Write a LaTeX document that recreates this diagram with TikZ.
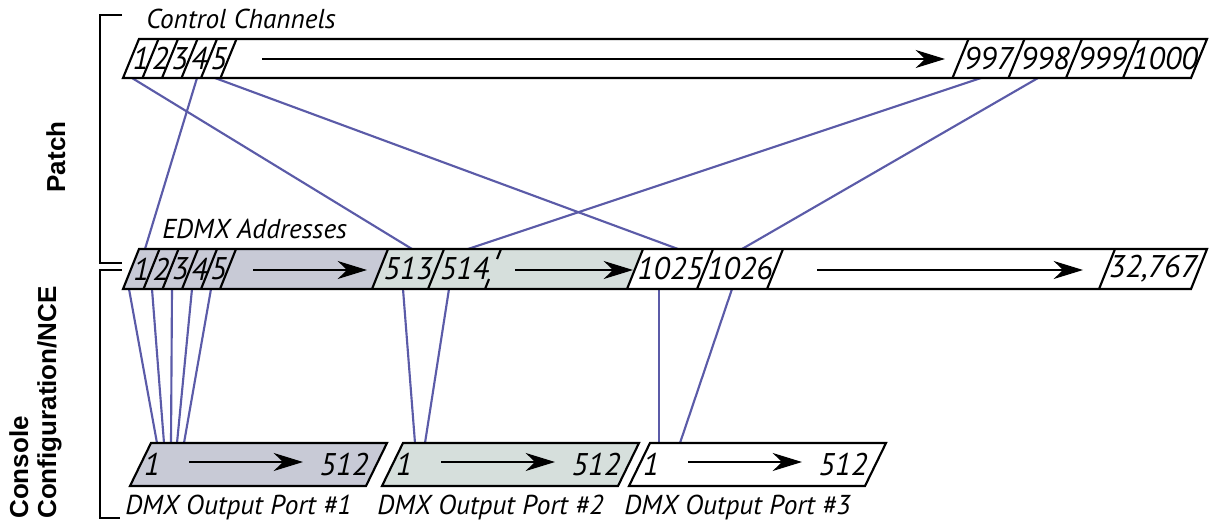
\documentclass[tikz,border=0pt]{standalone}
\usepackage{fontspec}
\usetikzlibrary{arrows.meta}
\newfontfamily\itfont{PT Sans}
\newfontfamily\sidefont{Liberation Sans}
\definecolor{linkblue}{RGB}{91,91,168}
\definecolor{edmxgray}{RGB}{200,202,214}
\definecolor{edmxgreen}{RGB}{214,223,220}

\begin{document}
\begin{tikzpicture}[x=0.75pt,y=-0.75pt,
    bar/.style={line width=1.6pt},
    link/.style={draw=linkblue,line width=1.6pt},
    arr/.style={-{Stealth[length=22pt,width=13.5pt,inset=7pt]},line width=1.5pt},
    num/.style={font=\itfont\itshape\fontsize{23.5}{23.5}\selectfont,inner sep=0pt},
    tagtext/.style={font=\itfont\itshape\fontsize{20.5}{20.5}\selectfont,inner sep=0pt,anchor=base west},
    side/.style={font=\sidefont\bfseries\fontsize{19.5}{19.5}\selectfont,inner sep=0pt,rotate=90,anchor=base west}]
    \useasboundingbox (0,0) rectangle (1210,520);

    % end points of the patch lines
    \foreach \n/\x in {1/132,4/197,5/215,997/981,998/1038}
        \coordinate (cb\n) at (\x,78);
    \foreach \n/\x in {1/145,513/412,514/468,1025/678,1026/742}
        \coordinate (et\n) at (\x,249);
    \foreach \n/\x in {1/129,2/152,3/172,4/192,5/211,513/403,514/449,1025/659,1026/732}
        \coordinate (eb\n) at (\x,289);
    \foreach \n/\x in {1/157,2/164,3/171,4/177,5/184,513/415,514/425,1025/659,1026/680}
        \coordinate (pt\n) at (\x,443);

    \draw[link] (cb1) -- (et513);
    \draw[link] (cb4) -- (et1);
    \draw[link] (cb5) -- (et1025);
    \draw[link] (cb997) -- (et514);
    \draw[link] (cb998) -- (et1026);
    \foreach \n in {1,2,3,4,5,513,514,1025,1026}
        \draw[link] (eb\n) -- (pt\n);

    % brackets
    \draw[line width=1.3pt] (122,15) -- (100,15) -- (100,263) -- (122,263);
    \draw[line width=1.3pt] (122,270) -- (100,270) -- (100,518) -- (120,518);
    \node[side,anchor=base] (patch) at (65,157) {Patch};
    \node[side] (console) at (28,519) {Console};
    \node[side] (config) at (56,519) {Configuration/NCE};

    % control channels
    \node[tagtext] (cclabel) at (146,28.5) {Control Channels};
    \draw[bar,fill=white] (123,78) -- (139,39) -- (1207,39) -- (1191,78) -- cycle;
    \foreach \x in {142.5,162,181.5,201,220.5,952.5,1008.5,1066,1123}
        \draw[bar] (\x,78) -- ++(16,-39);
    \foreach \n/\x in {1/140.75,2/160.25,3/179.75,4/199.25,5/218.75,997/988.5,998/1045.25,999/1102.5,1000/1165}
        \node[num] (cc\n) at (\x,58.5) {\n};
    \draw[arr] (262,59) -- (945,59);

    % edmx addresses
    \node[tagtext] (edmxlabel) at (162,238.5) {EDMX Addresses};
    \fill[edmxgray] (123,289) -- (139,249) -- (388,249) -- (372,289) -- cycle;
    \fill[edmxgreen] (372,289) -- (388,249) -- (643,249) -- (627,289) -- cycle;
    \draw[bar] (123,289) -- (139,249) -- (1207,249) -- (1191,289) -- cycle;
    \foreach \x in {143.5,162.5,182,201,220,372,428,627,697,767,1099}
        \draw[bar] (\x,289) -- ++(16,-40);
    \draw[bar] (485,289) -- ++(4,-10) (501,249) -- ++(-4,10);
    \foreach \n/\x in {1/141.25,2/161,3/180.25,4/199.5,5/218.5,513/408,514/464.5,1025/670,1026/740}
        \node[num] (ea\n) at (\x,269) {\n};
    \node[num] (ea32767) at (1153,269) {32,767};
    \draw[arr] (253,270) -- (367,270);
    \draw[arr] (515,270) -- (633,270);
    \draw[arr] (817,270) -- (1083,270);

    % dmx output ports
    \foreach \i/\x/\c in {1/130/edmxgray,2/382/edmxgreen,3/629/white} {
        \draw[bar,fill=\c] (\x,486) -- ++(21,-43) -- ++(236,0) -- ++(-21,43) -- cycle;
        \node[num] (pa\i) at (\x+22,464.5) {1};
        \node[num] (pz\i) at (\x+214,464.5) {512};
        \draw[arr] (\x+59,462) -- (\x+173,462);
        \node[tagtext] (port\i) at (\x-5,514) {DMX Output Port \#\i};
    }
\end{tikzpicture}
\end{document}
